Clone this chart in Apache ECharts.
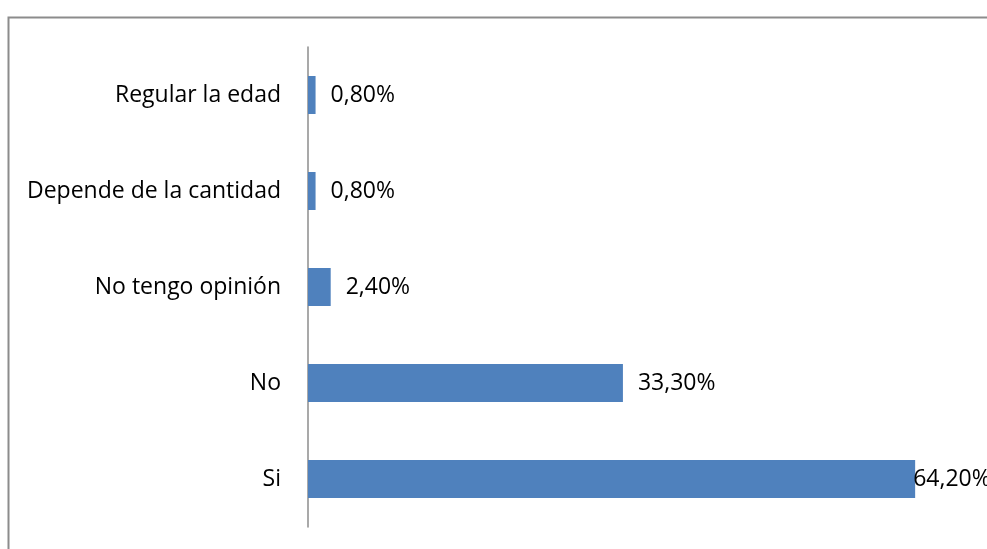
<!DOCTYPE html>
<html><head><meta charset="utf-8">
<script src="https://cdn.jsdelivr.net/npm/echarts@6/dist/echarts.min.js"></script>
<style>html,body{margin:0;padding:0;background:#fff}#c{width:987px;height:549px}</style>
</head><body><div id="c"></div>
<script>
const categories = ['Si', 'No', 'No tengo opinión', 'Depende de la cantidad', 'Regular la edad'];
const values = [64.2, 33.3, 2.4, 0.8, 0.8];
const valueLabels = ['64,20%', '33,30%', '2,40%', '0,80%', '0,80%'];

const chart = echarts.init(document.getElementById('c'), null, {renderer: 'canvas'});
chart.setOption({
  animation: false,
  backgroundColor: '#fff',
  graphic: [{
    type: 'rect', shape: {x: 8.5, y: 17.5, width: 1000, height: 600},
    style: {fill: 'none', stroke: '#8c8c8c', lineWidth: 2}, silent: true
  }],
  grid: {left: 308, top: 47, width: 662, height: 480},
  xAxis: {type: 'value', min: 0, max: 70, show: false},
  yAxis: {
    type: 'category', data: categories,
    axisLine: {lineStyle: {color: '#8c8c8c', width: 1.5}},
    axisTick: {show: false},
    axisLabel: {margin: 27, fontFamily: 'Open Sans', fontSize: 23, color: '#000'}
  },
  series: [{
    type: 'bar', barWidth: 38,
    itemStyle: {color: '#4F81BD'},
    data: values.map((v, i) => ({
      value: v,
      label: i === 0 ? {distance: -2} : {}
    })),
    label: {
      show: true, position: 'right', distance: 15,
      fontFamily: 'Open Sans', fontSize: 23, color: '#000',
      formatter: p => valueLabels[p.dataIndex]
    }
  }]
});
</script></body></html>
